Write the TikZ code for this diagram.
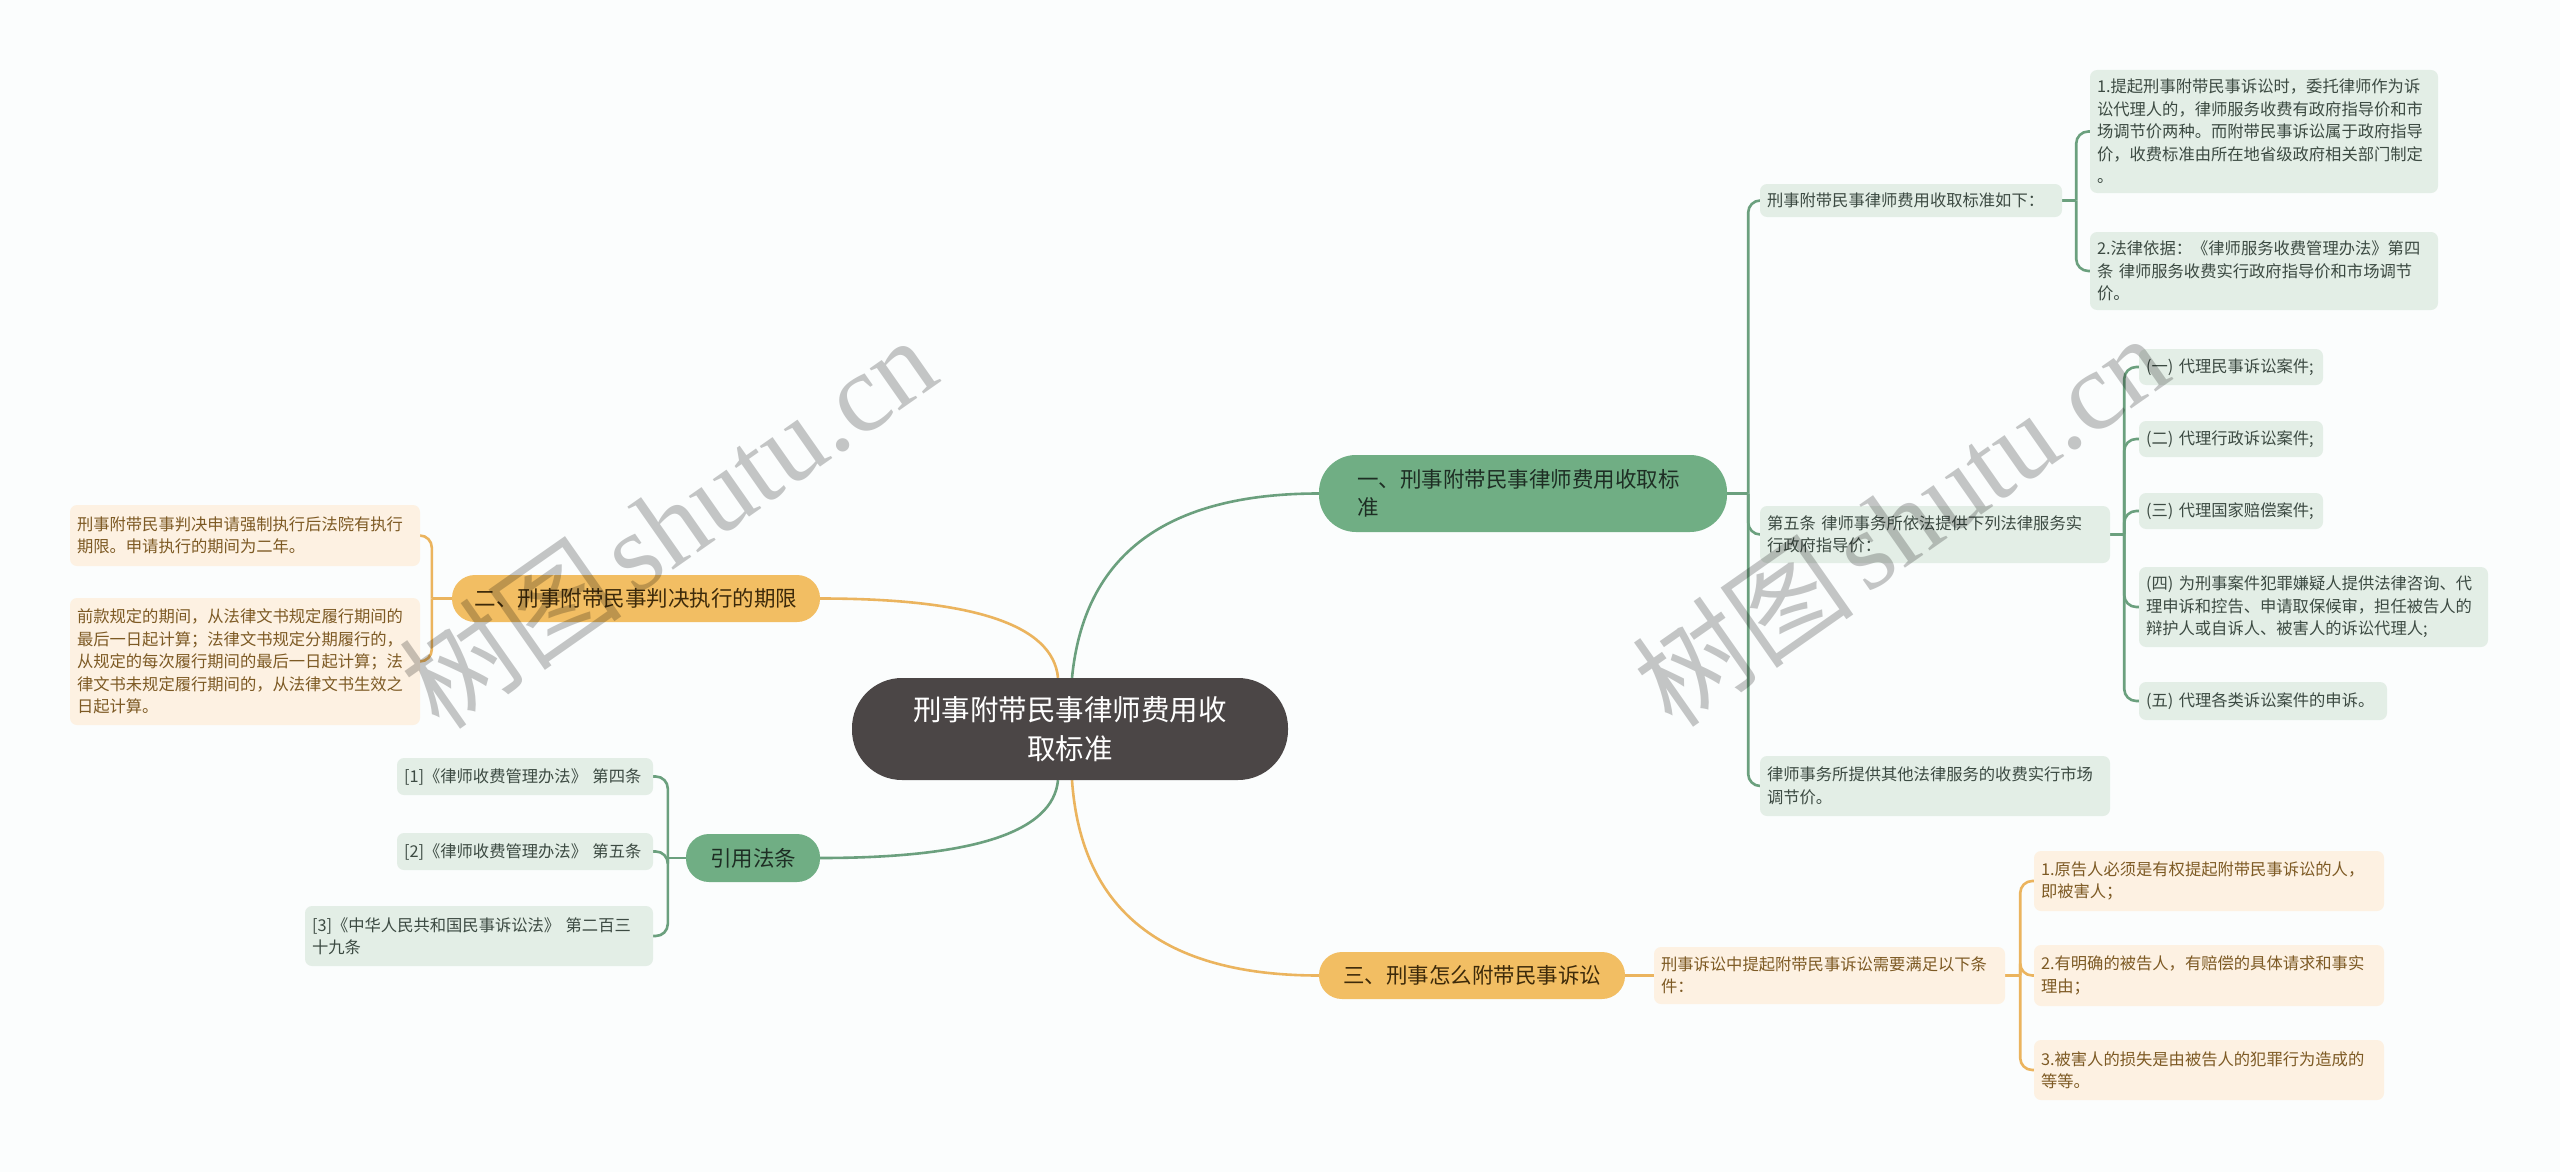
\documentclass[tikz,border=0pt]{standalone}
\usepackage{fontspec}
\newfontfamily\cjk{Noto Sans CJK SC}
\newfontfamily\wmserif{Liberation Serif}
\usetikzlibrary{backgrounds}
\definecolor{bgc}{HTML}{FBFDFD}
\definecolor{ctrfill}{HTML}{4B4646}
\definecolor{gfill}{HTML}{70AE84}
\definecolor{ofill}{HTML}{F2BE63}
\definecolor{glight}{HTML}{E3EEE6}
\definecolor{olight}{HTML}{FDF1E2}
\definecolor{glinec}{HTML}{6BA07E}
\definecolor{olinec}{HTML}{EBB45E}
\definecolor{gtextc}{HTML}{1E2E24}
\definecolor{otextc}{HTML}{3D2A0A}
\definecolor{gleaftext}{HTML}{3C4A42}
\definecolor{oleaftext}{HTML}{7D5A24}
\tikzset{
  ctrstyle/.style={fill=ctrfill, text=white, align=center, font=\cjk\fontsize{28.5}{39}\selectfont, inner ysep=0pt},
  gmain/.style={fill=gfill, text=gtextc, align=left, font=\cjk\fontsize{21.5}{28}\selectfont, inner ysep=0pt},
  omain/.style={fill=ofill, text=otextc, align=center, font=\cjk\fontsize{21.5}{28}\selectfont, inner ysep=0pt},
  gleaf/.style={fill=glight, text=gleaftext, rounded corners=7pt, align=left, font=\cjk\fontsize{16.3}{22.5}\selectfont, inner xsep=7pt, inner ysep=0pt},
  oleaf/.style={fill=olight, text=oleaftext, rounded corners=7pt, align=left, font=\cjk\fontsize{16.3}{22.5}\selectfont, inner xsep=7pt, inner ysep=0pt},
  gl/.style={draw=glinec, line width=2.6pt},
  ol/.style={draw=olinec, line width=2.6pt},
  wm/.style={text=black, text opacity=0.22, font=\cjk\fontsize{112}{118}\selectfont, inner sep=0pt}
}
\begin{document}
\begin{tikzpicture}[x=1pt,y=-1pt]
\useasboundingbox (0,0) rectangle (2560,1172);
% central and main nodes
\node[ctrstyle, rounded corners=50pt, minimum width=436pt, minimum height=102pt, text width=360pt, inner xsep=38pt] (ctr) at (1070,729) {刑事附带民事律师费用收\\取标准};
\node[gmain, rounded corners=37pt, minimum width=408pt, minimum height=77pt, text width=332pt, inner xsep=38pt] (n1) at (1523,493.5) {一、刑事附带民事律师费用收取标\\准};
\node[omain, rounded corners=23pt, minimum width=368pt, minimum height=47pt, text width=328pt, inner xsep=20pt] (n2) at (636,598.5) {二、刑事附带民事判决执行的期限};
\node[gmain, align=center, rounded corners=23pt, minimum width=134pt, minimum height=48pt, text width=94pt, inner xsep=20pt] (n3) at (753,858) {引用法条};
\node[omain, rounded corners=23pt, minimum width=306pt, minimum height=47pt, text width=266pt, inner xsep=20pt] (n4) at (1472,975.5) {三、刑事怎么附带民事诉讼};
% right green leaves
\node[gleaf, minimum width=302pt, minimum height=33pt, text width=288pt] (A) at (1911,200.5) {刑事附带民事律师费用收取标准如下：};
\node[gleaf, minimum width=348pt, minimum height=123pt, text width=334pt] (A1) at (2264,131.5) {1.提起刑事附带民事诉讼时，委托律师作为诉\\讼代理人的，律师服务收费有政府指导价和市\\场调节价两种。而附带民事诉讼属于政府指导\\价，收费标准由所在地省级政府相关部门制定\\。};
\node[gleaf, minimum width=348pt, minimum height=78pt, text width=334pt] (A2) at (2264,271) {2.法律依据：《律师服务收费管理办法》第四\\条~律师服务收费实行政府指导价和市场调节\\价。};
\node[gleaf, minimum width=350pt, minimum height=57pt, text width=336pt] (B) at (1935,534.5) {第五条~律师事务所依法提供下列法律服务实\\行政府指导价：};
\node[gleaf, minimum width=184pt, minimum height=36pt, text width=170pt] (B1) at (2231,367) {(一)~代理民事诉讼案件;};
\node[gleaf, minimum width=184pt, minimum height=36pt, text width=170pt] (B2) at (2231,439) {(二)~代理行政诉讼案件;};
\node[gleaf, minimum width=184pt, minimum height=36pt, text width=170pt] (B3) at (2231,511) {(三)~代理国家赔偿案件;};
\node[gleaf, minimum width=349pt, minimum height=80pt, text width=335pt] (B4) at (2313.5,607) {(四)~为刑事案件犯罪嫌疑人提供法律咨询、代\\理申诉和控告、申请取保候审，担任被告人的\\辩护人或自诉人、被害人的诉讼代理人;};
\node[gleaf, minimum width=248pt, minimum height=38pt, text width=234pt] (B5) at (2263,701) {(五)~代理各类诉讼案件的申诉。};
\node[gleaf, minimum width=350pt, minimum height=60pt, text width=336pt] (C) at (1935,786) {律师事务所提供其他法律服务的收费实行市场\\调节价。};
% right orange leaves
\node[oleaf, minimum width=351pt, minimum height=57pt, text width=337pt] (D) at (1829.5,975.5) {刑事诉讼中提起附带民事诉讼需要满足以下条\\件：};
\node[oleaf, minimum width=350pt, minimum height=60pt, text width=336pt] (D1) at (2209,881) {1.原告人必须是有权提起附带民事诉讼的人，\\即被害人；};
\node[oleaf, minimum width=350pt, minimum height=61pt, text width=336pt] (D2) at (2209,975.5) {2.有明确的被告人，有赔偿的具体请求和事实\\理由；};
\node[oleaf, minimum width=350pt, minimum height=60pt, text width=336pt] (D3) at (2209,1070) {3.被害人的损失是由被告人的犯罪行为造成的\\等等。};
% left orange leaves
\node[oleaf, minimum width=350pt, minimum height=61pt, text width=336pt] (E1) at (245,535.5) {刑事附带民事判决申请强制执行后法院有执行\\期限。申请执行的期间为二年。};
\node[oleaf, minimum width=350pt, minimum height=127pt, text width=336pt] (E2) at (245,661.5) {前款规定的期间，从法律文书规定履行期间的\\最后一日起计算；法律文书规定分期履行的，\\从规定的每次履行期间的最后一日起计算；法\\律文书未规定履行期间的，从法律文书生效之\\日起计算。};
% left green leaves
\node[gleaf, minimum width=256pt, minimum height=37pt, text width=242pt] (F1) at (525,776.5) {[1]《律师收费管理办法》~第四条};
\node[gleaf, minimum width=256pt, minimum height=37pt, text width=242pt] (F2) at (525,851.5) {[2]《律师收费管理办法》~第五条};
\node[gleaf, minimum width=348pt, minimum height=60pt, text width=334pt] (F3) at (479,936) {[3]《中华人民共和国民事诉讼法》~第二百三\\十九条};
% bracket coordinates
\coordinate (b1) at ([xshift=21pt]n1.east);
\coordinate (bA) at ([xshift=14pt]A.east);
\coordinate (bB) at ([xshift=14pt]B.east);
\coordinate (bD) at ([xshift=15pt]D.east);
\coordinate (b2) at ([xshift=-20pt]n2.west);
\coordinate (b3) at ([xshift=-18pt]n3.west);
\begin{scope}[on background layer]
\fill[bgc] (0,0) rectangle (2560,1172);
\draw[gl] ([xshift=2pt]ctr.north) .. controls +(12,-123) and +(-153,0) .. (n1.west);
\draw[ol] ([xshift=-12pt]ctr.north) .. controls +(-5,-53) and +(153,0) .. (n2.east);
\draw[gl] ([xshift=-12pt]ctr.south) .. controls +(-5,52) and +(153,0) .. (n3.east);
\draw[ol] ([xshift=2pt]ctr.south) .. controls +(9,130) and +(-156,0) .. (n4.west);
\draw[gl] (n1.east) -- (b1);
\draw[gl, rounded corners=12pt] (b1) |- (A.west);
\draw[gl, rounded corners=12pt] (b1) |- (B.west);
\draw[gl, rounded corners=12pt] (b1) |- (C.west);
\draw[gl] (A.east) -- (bA);
\draw[gl, rounded corners=12pt] (bA) |- (A1.west);
\draw[gl, rounded corners=12pt] (bA) |- (A2.west);
\draw[gl] (B.east) -- (bB);
\draw[gl, rounded corners=12pt] (bB) |- (B1.west);
\draw[gl, rounded corners=12pt] (bB) |- (B2.west);
\draw[gl, rounded corners=12pt] (bB) |- (B3.west);
\draw[gl, rounded corners=12pt] (bB) |- (B4.west);
\draw[gl, rounded corners=12pt] (bB) |- (B5.west);
\draw[ol] (n4.east) -- (D.west);
\draw[ol] (D.east) -- (bD);
\draw[ol, rounded corners=12pt] (bD) |- (D1.west);
\draw[ol, rounded corners=12pt] (bD) |- (D2.west);
\draw[ol, rounded corners=12pt] (bD) |- (D3.west);
\draw[ol] (n2.west) -- (b2);
\draw[ol, rounded corners=12pt] (b2) |- (E1.east);
\draw[ol, rounded corners=12pt] (b2) |- (E2.east);
\draw[gl] (n3.west) -- (b3);
\draw[gl, rounded corners=12pt] (b3) |- (F1.east);
\draw[gl, rounded corners=12pt] (b3) |- (F2.east);
\draw[gl, rounded corners=12pt] (b3) |- (F3.east);
\end{scope}
% watermarks
\node[wm, rotate=35] (wm1) at (668,522) {树图\hspace{0.12em}{\wmserif shutu.cn}};
\node[wm, rotate=35] (wm2) at (1900,520) {树图\hspace{0.12em}{\wmserif shutu.cn}};
\end{tikzpicture}
\end{document}
